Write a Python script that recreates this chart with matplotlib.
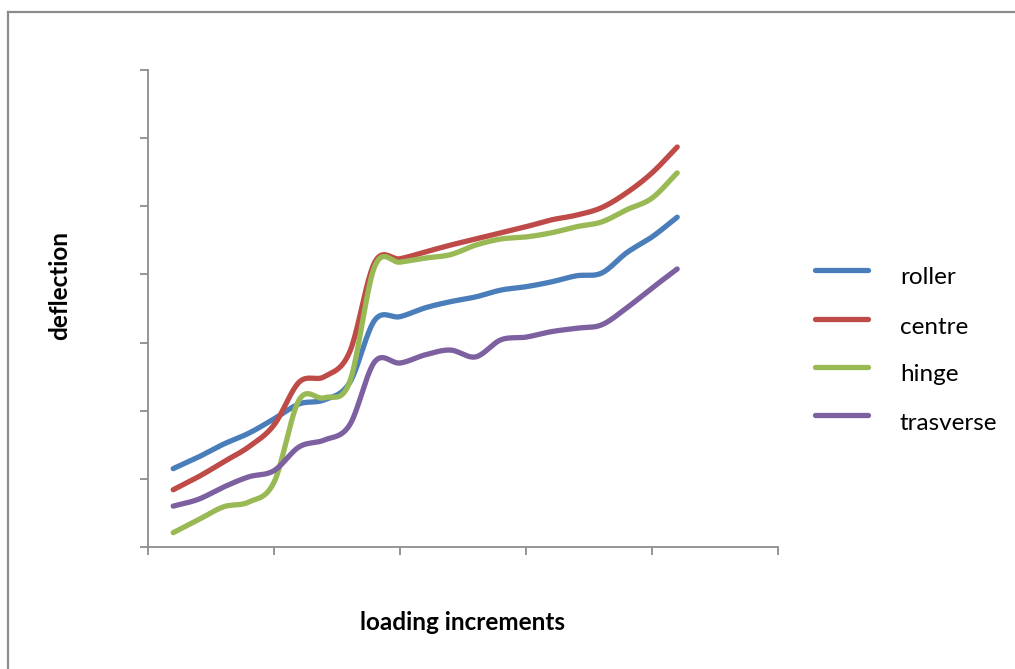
import numpy as np
import matplotlib
matplotlib.use("Agg")
import matplotlib.pyplot as plt
from matplotlib.lines import Line2D

# data (y in axis units, 7 major gridsteps)
increments = list(range(1, 22))
roller = [1.15, 1.32, 1.51, 1.67, 1.88, 2.10, 2.16, 2.41, 3.33, 3.38, 3.51,
          3.60, 3.67, 3.77, 3.82, 3.89, 3.98, 4.02, 4.32, 4.55, 4.84]
centre = [0.84, 1.03, 1.25, 1.47, 1.79, 2.42, 2.50, 2.86, 4.18, 4.23, 4.33,
          4.43, 4.52, 4.61, 4.70, 4.80, 4.87, 4.98, 5.20, 5.49, 5.87]
hinge = [0.21, 0.40, 0.59, 0.66, 0.95, 2.16, 2.19, 2.42, 4.12, 4.18, 4.24,
         4.29, 4.43, 4.52, 4.55, 4.61, 4.70, 4.77, 4.95, 5.12, 5.49]
trasverse = [0.60, 0.70, 0.88, 1.03, 1.12, 1.47, 1.57, 1.79, 2.72, 2.70, 2.82,
             2.89, 2.79, 3.04, 3.08, 3.16, 3.21, 3.26, 3.51, 3.80, 4.08]

series_names = ["roller", "centre", "hinge", "trasverse"]
series_colors = ["#4A7EBB", "#BE4B48", "#98B954", "#7D60A0"]


def smooth(x, y, steps=20):
    # catmull-rom, roughly what Excel does for "smoothed line"
    x = np.asarray(x, float)
    y = np.asarray(y, float)
    px = np.concatenate([[2 * x[0] - x[1]], x, [2 * x[-1] - x[-2]]])
    py = np.concatenate([[2 * y[0] - y[1]], y, [2 * y[-1] - y[-2]]])
    t = np.linspace(0, 1, steps, endpoint=False)
    xs, ys = [], []
    for i in range(1, len(px) - 2):
        for p, out in ((px, xs), (py, ys)):
            p0, p1, p2, p3 = p[i - 1], p[i], p[i + 1], p[i + 2]
            out.extend(0.5 * ((2 * p1) + (-p0 + p2) * t
                              + (2 * p0 - 5 * p1 + 4 * p2 - p3) * t ** 2
                              + (-p0 + 3 * p1 - 3 * p2 + p3) * t ** 3))
    xs.append(x[-1])
    ys.append(y[-1])
    return np.array(xs), np.array(ys)


plt.rcParams['font.family'] = ['Lato', 'DejaVu Sans']

fig = plt.figure(figsize=(10.15, 6.69), dpi=100)
ax = fig.add_axes([148 / 1015, 1 - 547 / 669, 630 / 1015, 477 / 669])

for name, vals, col in zip(series_names, [roller, centre, hinge, trasverse], series_colors):
    sx, sy = smooth(increments, vals)
    ax.plot(sx, sy, color=col, lw=3.8, solid_capstyle='round', label=name)

ax.set_xlim(0, 25)
ax.set_ylim(0, 7)
ax.set_xticks(range(0, 26, 5))
ax.set_yticks(range(0, 8))
ax.set_xticklabels([])
ax.set_yticklabels([])
ax.tick_params(direction='out', length=6, width=1.3, color='#8c8c8c')
for s in ['top', 'right']:
    ax.spines[s].set_visible(False)
for s in ['left', 'bottom']:
    ax.spines[s].set_color('#8c8c8c')
    ax.spines[s].set_linewidth(1.3)

fig.text(463 / 1015, 1 - 623 / 669, "loading increments", ha='center', va='center',
         fontsize=17.5, fontweight='bold')
fig.text(60 / 1015, 1 - 285 / 669, "deflection", ha='center', va='center',
         rotation=90, fontsize=17.5, fontweight='bold')

# legend drawn by hand to keep the wide gap between line and text
leg_y = [270, 319, 367, 415]
for name, col, yy in zip(series_names, series_colors, leg_y):
    yf = 1 - yy / 669
    fig.add_artist(Line2D([815 / 1015, 868 / 1015], [yf, yf], color=col, lw=3.8,
                          solid_capstyle='round'))
    fig.text(900 / 1015, 1 - (yy + 8) / 669, name, ha='left', va='center', fontsize=17.5)

# outer chart border (cut off at right and bottom)
fig.add_artist(Line2D([7.5 / 1015, 7.5 / 1015], [0, 1 - 12 / 669], color='#8c8c8c', lw=1.6))
fig.add_artist(Line2D([7.5 / 1015, 1], [1 - 12 / 669, 1 - 12 / 669], color='#8c8c8c', lw=1.6))

fig.savefig("out.png", dpi=100)
